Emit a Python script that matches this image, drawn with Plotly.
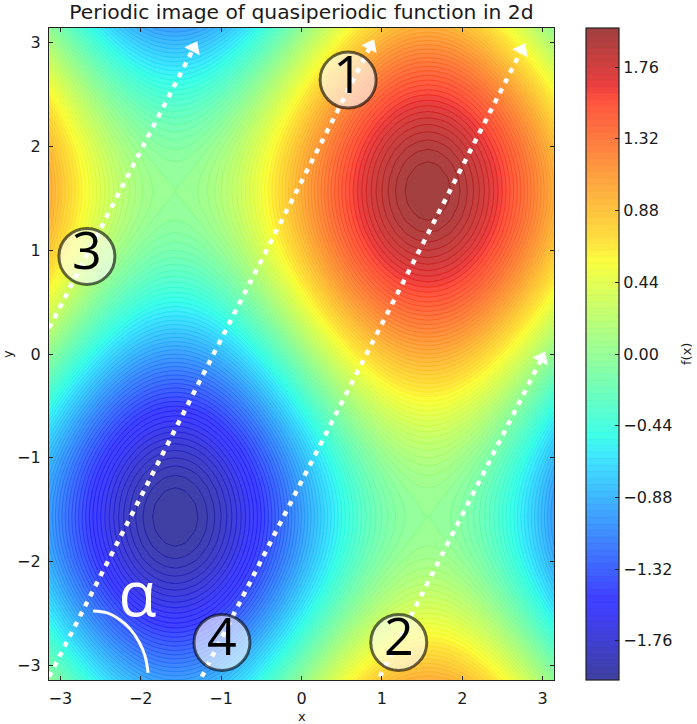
import plotly.graph_objects as go

# Surface samples along each axis, spaced 7.5 degrees apart from -pi to pi.
profile_x = [0, -.131, -.259, -.383, -.5, -.609, -.707, -.793, -.866, -.924, -.966, -.991, -1,
             -.991, -.966, -.924, -.866, -.793, -.707, -.609, -.5, -.383, -.259, -.131, 0,
             .131, .259, .383, .5, .609, .707, .793, .866, .924, .966, .991, 1,
             .991, .966, .924, .866, .793, .707, .609, .5, .383, .259, .131, 0]
profile_y = [0, -.131, -.259, -.383, -.5, -.609, -.707, -.793, -.866, -.924, -.966, -.991, -1,
             -.991, -.966, -.924, -.866, -.793, -.707, -.609, -.5, -.383, -.259, -.131, 0,
             .131, .259, .383, .5, .609, .707, .793, .866, .924, .966, .991, 1,
             .991, .966, .924, .866, .793, .707, .609, .5, .383, .259, .131, 0]
surface = [[a + b for a in profile_x] for b in profile_y]

# Straight trajectories on the torus: start and arrow tip of each segment.
path_x = [[-3.14, 0.86], [-1.24, 2.74], [0.976, 2.99], [-3.14, -1.34]]
path_y = [[-3.11, 2.97], [-3.11, 2.93], [-3.11, -0.04], [0.25, 2.95]]

# Angle arc next to the alpha label.
arc_x = [-2.593, -2.419, -2.257, -2.133, -2.021, -1.947, -1.909]
arc_y = [-2.476, -2.495, -2.563, -2.649, -2.775, -2.909, -3.073]

# Numbered badges.
badge_x = [0.58, 1.21, -2.67, -0.99]
badge_y = [2.64, -2.78, 0.94, -2.78]
badge_text = ["1", "2", "3", "4"]

# Jet colormap nodes.
jet_pos = [0, .11, .125, .34, .35, .375, .64, .65, .66, .89, .91, 1]
jet_rgb = [(0, 0, 128), (0, 0, 255), (0, 0, 255), (0, 220, 255), (0, 230, 247), (0, 255, 225),
           (247, 255, 0), (252, 245, 0), (255, 230, 0), (255, 26, 0), (230, 0, 0), (128, 0, 0)]
ALPHA = 0.75


def over_white(rgb):
    return "rgb(%d,%d,%d)" % tuple(round(c * ALPHA + 255 * (1 - ALPHA)) for c in rgb)


fill_scale = [[p, over_white(c)] for p, c in zip(jet_pos, jet_rgb)]
line_scale = [[p, "rgb(%d,%d,%d)" % c] for p, c in zip(jet_pos, jet_rgb)]
FONT = "DejaVu Sans"
INK = "#1a1a1a"

grid = dict(z=surface, x0=-3.1416, dx=0.1309, y0=-3.1416, dy=0.1309, zmin=-2, zmax=2,
            autocontour=False, hoverinfo="skip")
levels = dict(start=-2, end=2, size=0.04)

fig = go.Figure()
fig.add_trace(go.Contour(
    colorscale=fill_scale, contours=dict(levels, coloring="fill"),
    line=dict(color="rgba(0,0,0,0.06)", width=0.5, smoothing=0.6),
    colorbar=dict(
        x=1.0634, xanchor="left", y=0.5, yanchor="middle", len=1, lenmode="fraction",
        thickness=33, thicknessmode="pixels", xpad=0, ypad=0,
        outlinecolor="#222", outlinewidth=1.2,
        tick0=0, dtick=0.44, tickformat=".2f", ticks="inside", ticklen=4,
        tickcolor="#222", tickwidth=1,
        tickfont=dict(family=FONT, size=16, color=INK),
    ),
    **grid,
))
# Iso-lines in the undiluted colormap, visible where the fill is deep.
fig.add_trace(go.Contour(
    colorscale=line_scale, showscale=False, contours=dict(levels, coloring="lines"),
    line=dict(width=0.8, smoothing=0.6), opacity=0.55,
    **grid,
))

for xs, ys in zip(path_x, path_y):
    fig.add_trace(go.Scatter(
        x=xs, y=ys, mode="lines",
        line=dict(color="white", width=4.5, dash="5px,6.3px"), hoverinfo="skip",
    ))

fig.add_trace(go.Scatter(
    x=[xs[1] for xs in path_x], y=[ys[1] for ys in path_y], mode="markers",
    marker=dict(symbol="triangle-up", size=15, color="white", angle=27, line=dict(width=0)),
    hoverinfo="skip",
))

fig.add_trace(go.Scatter(
    x=arc_x, y=arc_y, mode="lines",
    line=dict(color="white", width=3, shape="spline"), hoverinfo="skip",
))

fig.add_trace(go.Scatter(
    x=badge_x, y=badge_y, mode="markers+text", text=badge_text,
    textposition="middle center",
    textfont=dict(family="Open Sans", size=52, color="black"),
    marker=dict(size=56, color="rgba(255,255,255,0.6)",
                line=dict(color="rgba(0,0,0,0.6)", width=3)),
    hoverinfo="skip",
))

fig.add_trace(go.Scatter(
    x=[-2.04], y=[-2.38], mode="text", text=["α"], textposition="middle center",
    textfont=dict(family="Open Sans", size=62, color="white"), hoverinfo="skip",
))

axis_style = dict(
    range=[-3.1416, 3.1416], tick0=-3, dtick=1, ticks="inside", ticklen=4, tickwidth=1,
    tickcolor="#222", showline=True, linecolor="#222", linewidth=1.3, mirror="ticks",
    showgrid=False, zeroline=False, ticklabelstandoff=4,
    tickfont=dict(family=FONT, size=16, color=INK),
)
label = dict(xref="paper", yref="paper", showarrow=False, xanchor="center", yanchor="middle",
             font=dict(family=FONT, size=13, color=INK), borderpad=0)
fig.update_layout(
    width=697, height=724, margin=dict(l=49, r=143, t=28, b=44, autoexpand=False),
    paper_bgcolor="white", plot_bgcolor="white", showlegend=False,
    title=dict(text="Periodic image of quasiperiodic function in 2d",
               x=0.5, xref="paper", xanchor="center", y=0.983, yref="container", yanchor="middle",
               font=dict(family=FONT, size=20.3, color=INK)),
    xaxis=axis_style,
    yaxis=axis_style,
    annotations=[
        dict(label, text="x", x=0.5, y=-0.0555),
        dict(label, text="y", x=-0.083, y=0.5, textangle=-90),
        dict(label, text="f(x)", x=1.2614, y=0.5, textangle=-90),
    ],
)

fig.write_html("out.html", config={"displayModeBar": False})
